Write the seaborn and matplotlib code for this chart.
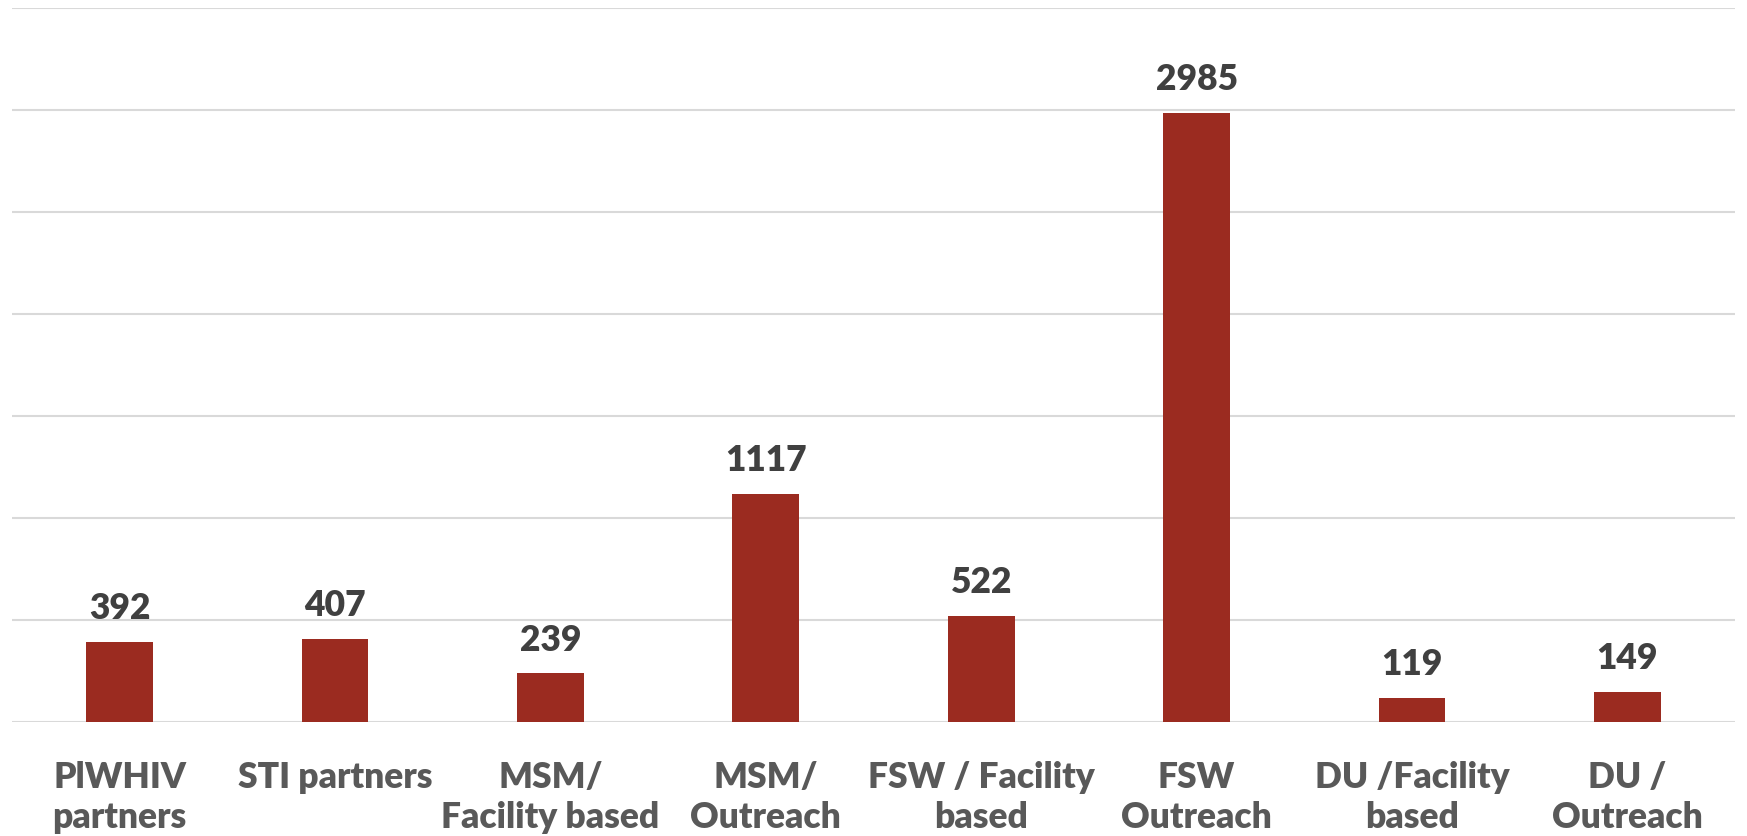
import matplotlib
matplotlib.use("Agg")
import matplotlib.pyplot as plt
import seaborn as sns
import pandas as pd

categories = ["PlWHIV\npartners", "STI partners", "MSM/\nFacility based", "MSM/\nOutreach",
              "FSW / Facility\nbased", "FSW\nOutreach", "DU /Facility\nbased", "DU /\nOutreach"]
values = [392, 407, 239, 1117, 522, 2985, 119, 149]

sns.set_theme(style="white")
plt.rcParams['font.family'] = ['Lato', 'DejaVu Sans']

df = pd.DataFrame({"cat": categories, "val": values})

fig = plt.figure(figsize=(17.47, 8.36), dpi=100)
ax = fig.add_axes([12/1747, (836-722)/836, (1735-12)/1747, (722-8)/836])

sns.barplot(data=df, x="cat", y="val", color="#9B2B20", saturation=1, width=0.31, ax=ax, zorder=3)
for p in ax.patches:
    p.set_edgecolor("none")

ax.set_ylim(0, 3500)
ax.set_yticks(range(0, 3501, 500))
ax.yaxis.grid(True, color="#D9D9D9", linewidth=1.5, zorder=0)
ax.set_axisbelow(True)
ax.tick_params(axis="y", left=False, labelleft=False)
ax.tick_params(axis="x", bottom=False, pad=22)
ax.set_xlabel("")
ax.set_ylabel("")
for s in ax.spines.values():
    s.set_visible(False)

for lbl in ax.get_xticklabels():
    lbl.set_fontsize(25.5)
    lbl.set_fontweight("heavy")
    lbl.set_color("#595959")
    lbl.set_linespacing(1.25)

ax.bar_label(ax.containers[0], labels=[str(v) for v in values], padding=12,
             fontsize=25.5, fontweight="heavy", color="#404040")

fig.savefig("out.png", dpi=100)
